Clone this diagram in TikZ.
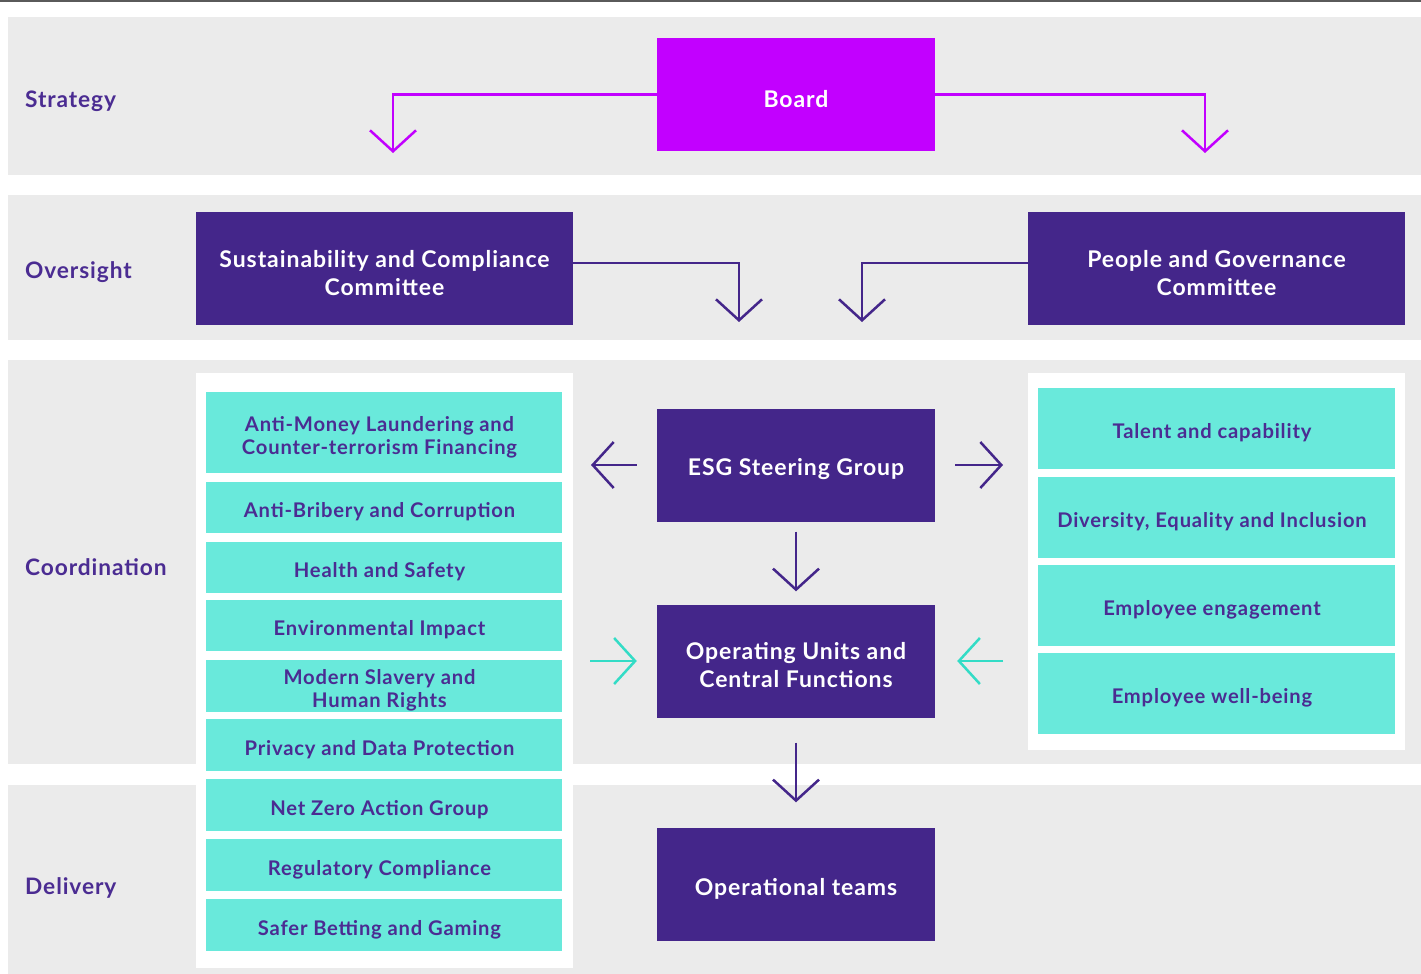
\documentclass[tikz,border=0pt]{standalone}
\usepackage{fontspec}
\setmainfont{Lato}[LetterSpace=4]
\usetikzlibrary{arrows.meta,positioning,calc}
\definecolor{bandgray}{HTML}{EBEBEB}
\definecolor{deeppurple}{HTML}{44268A}
\definecolor{boardmag}{HTML}{C200FF}
\definecolor{tealbox}{HTML}{69E9DB}
\definecolor{tealarrow}{HTML}{33DCC6}
\definecolor{labelpurple}{HTML}{4B2C92}
\definecolor{topline}{HTML}{5A5A5A}
\tikzset{
  band/.style={fill=bandgray, draw=none},
  panel/.style={fill=white, draw=none},
  ptxt/.style={text=white, inner sep=0pt, align=center, yshift=-4.5pt,
    font=\bfseries\fontsize{23}{28}\selectfont},
  ttxt/.style={text=labelpurple, inner sep=0pt, align=center, yshift=-4.5pt, xshift=-4.5pt,
    font=\bfseries\fontsize{20.2}{23}\selectfont},
  pbox/.style={fill=deeppurple, draw=none, inner sep=0pt,
    minimum width=278pt, minimum height=113pt, label={[ptxt]center:{#1}}},
  cbox/.style={pbox={#1}, minimum width=377pt},
  bboard/.style={pbox={#1}, fill=boardmag},
  tbox/.style={fill=tealbox, draw=none, inner sep=0pt,
    minimum width=356pt, label={[ttxt]center:{#1}}},
  rbox/.style={tbox={#1}, minimum width=357pt, minimum height=81pt},
  lbl/.style={anchor=west, text=labelpurple, inner sep=0pt, font=\bfseries\fontsize{22.7}{26}\selectfont},
  arr/.style={draw=deeppurple, line width=2.5pt, -{Straight Barb[length=21pt,width=46pt,line width=2.5pt]}},
  marr/.style={arr, draw=boardmag},
  tarr/.style={arr, draw=tealarrow},
}
\begin{document}
\begin{tikzpicture}[x=1pt,y=-1pt]
\useasboundingbox (0,0) rectangle (1421,974);
\fill[white] (0,0) rectangle (1421,974);
\draw[topline, line width=1.6pt] (0,0.8) -- (1421,0.8);
% bands
\fill[band] (8,17) rectangle (1421,175);
\fill[band] (8,195) rectangle (1421,340);
\fill[band] (8,360) rectangle (1421,764);
\fill[band] (8,785) rectangle (1421,974);
% panels
\fill[panel] (196,373) rectangle (573,968);
\fill[panel] (1028,373) rectangle (1405,750);
% labels
\node[lbl] (lstrat) at (25,101) {Strategy};
\node[lbl] (lover) at (25,272) {Oversight};
\node[lbl] (lcoord) at (25,567) {Coordination};
\node[lbl] (ldeliv) at (25,888) {Delivery};
% main boxes
\node[bboard={Board}] (board) at (796,94.5) {};
\node[cbox={Sustainability and Compliance\\Committee}] (scc) at (384.5,268.5) {};
\node[cbox={People and Governance\\Committee}] (pgc) at (1216.5,268.5) {};
\node[pbox={ESG Steering Group}] (esg) at (796,465) {};
\node[pbox={Operating Units and\\Central Functions}] (ou) at (796,661) {};
\node[pbox={Operational teams}] (ops) at (796,884) {};
% left teal list
\node[tbox={Anti-Money Laundering and\\Counter-terrorism Financing}, minimum height=81pt] (aml) at (384,432.5) {};
\node[tbox={Anti-Bribery and Corruption}, minimum height=51pt] (abc) at (384,507.5) {};
\node[tbox={Health and Safety}, minimum height=51pt] (hs) at (384,567.5) {};
\node[tbox={Environmental Impact}, minimum height=51pt] (env) at (384,625.5) {};
\node[tbox={Modern Slavery and\\Human Rights}, minimum height=52pt] (msh) at (384,686) {};
\node[tbox={Privacy and Data Protection}, minimum height=52pt] (pdp) at (384,745) {};
\node[tbox={Net Zero Action Group}, minimum height=52pt] (nz) at (384,805) {};
\node[tbox={Regulatory Compliance}, minimum height=52pt] (rc) at (384,865) {};
\node[tbox={Safer Betting and Gaming}, minimum height=52pt] (sbg) at (384,925) {};
% right teal list
\node[rbox={Talent and capability}] (tal) at (1216.5,428.5) {};
\node[rbox={Diversity, Equality and Inclusion}] (dei) at (1216.5,517) {};
\node[rbox={Employee engagement}] (eng) at (1216.5,605.5) {};
\node[rbox={Employee well-being}] (wb) at (1216.5,693.5) {};
% free arrow ends
\coordinate (sL) at (393,153);
\coordinate (sR) at (1205,153);
\coordinate (oL) at (739,322);
\coordinate (oR) at (862,322);
\coordinate (eL) at (591,465);
\coordinate (eR) at (1003,465);
\coordinate (tL) at (590,661);
\coordinate (tR) at (1003,661);
% connectors
\draw[marr] (board.west) -| (sL);
\draw[marr] (board.east) -| (sR);
\draw[arr] ([yshift=5.5pt]scc.east) -| (oL);
\draw[arr] ([yshift=5.5pt]pgc.west) -| (oR);
\draw[arr] ([xshift=-20pt]esg.west) -- (eL);
\draw[arr] ([xshift=20pt]esg.east) -- (eR);
\draw[arr] ([yshift=-10pt]esg.south) -- ([yshift=13pt]ou.north);
\draw[arr] ([yshift=-25pt]ou.south) -- ([yshift=25pt]ops.north);
\draw[tarr] (tL) -- ([xshift=-20pt]ou.west);
\draw[tarr] (tR) -- ([xshift=22pt]ou.east);
\end{tikzpicture}
\end{document}
